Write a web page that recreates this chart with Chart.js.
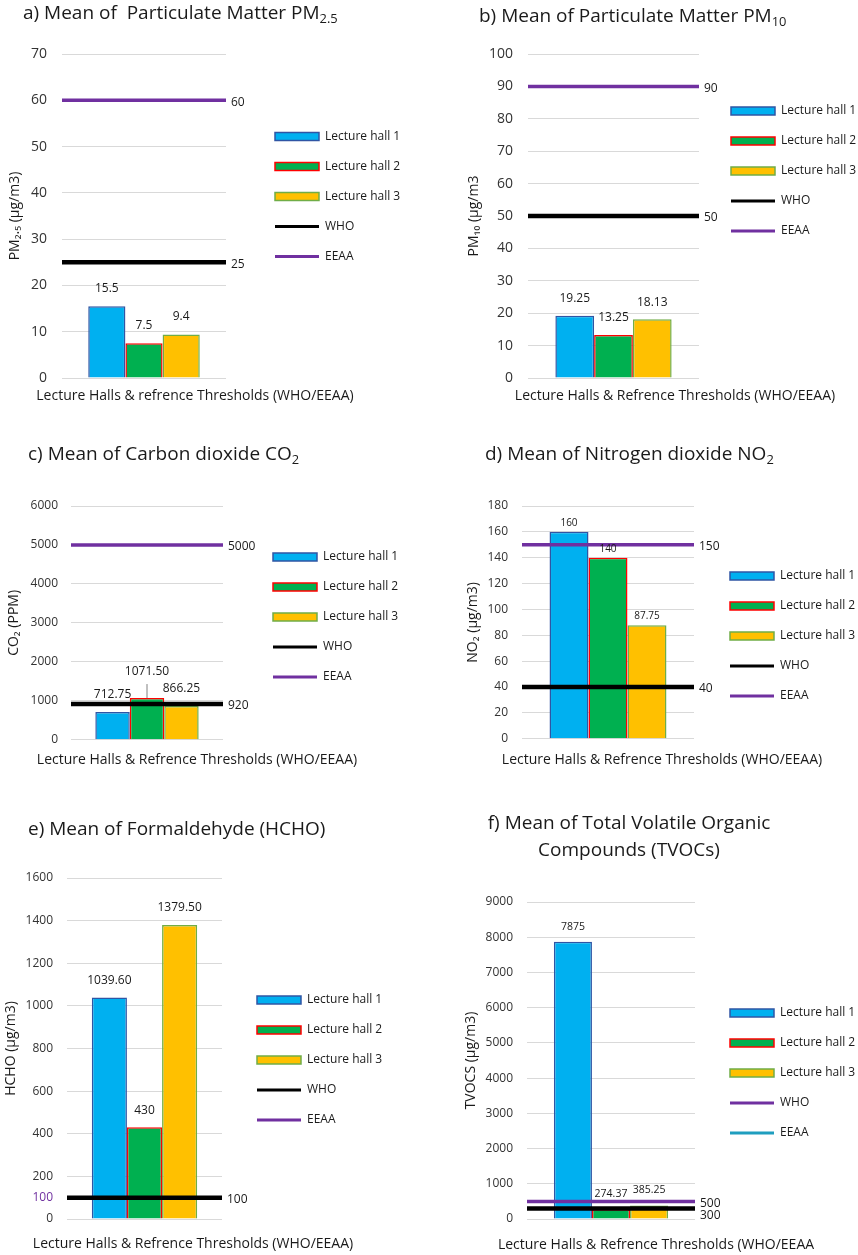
<!DOCTYPE html>
<html>
<head>
<meta charset="utf-8">
<script src="https://cdn.jsdelivr.net/npm/chart.js@4.4.1/dist/chart.umd.min.js"></script>
<style>
  html, body { margin: 0; padding: 0; background: #fff; overflow: hidden; }
  #page { position: relative; width: 858px; height: 1255px; overflow: hidden; font-family: 'Open Sans', sans-serif; color: #1a1a1a; }
  .panel { position: absolute; }
  .ttl { position: absolute; font-size: 19px; line-height: 23px; white-space: pre; }
  .ttl sub { font-size: 0.68em; line-height: 0; vertical-align: -0.3em; }
  .cap { position: absolute; font-size: 14px; line-height: 18px; white-space: pre; transform: translateX(-50%); }
</style>
</head>
<body>
<div id="page">
  <div class="panel" style="left:0;top:0"><canvas id="cA" width="429" height="412"></canvas></div>
  <div class="panel" style="left:430px;top:0"><canvas id="cB" width="480" height="412"></canvas></div>
  <div class="panel" style="left:0;top:420px"><canvas id="cC" width="429" height="340"></canvas></div>
  <div class="panel" style="left:430px;top:420px"><canvas id="cD" width="480" height="340"></canvas></div>
  <div class="panel" style="left:0;top:820px"><canvas id="cE" width="429" height="435"></canvas></div>
  <div class="panel" style="left:430px;top:820px"><canvas id="cF" width="480" height="435"></canvas></div>

  <div class="ttl" style="left:23px;top:1px">a) Mean of  Particulate Matter PM<sub>2.5</sub></div>
  <div class="ttl" style="left:479px;top:4px">b) Mean of Particulate Matter PM<sub>10</sub></div>
  <div class="ttl" style="left:28px;top:442px">c) Mean of Carbon dioxide CO<sub>2</sub></div>
  <div class="ttl" style="left:485px;top:442px">d) Mean of Nitrogen dioxide NO<sub>2</sub></div>
  <div class="ttl" style="left:28px;top:817px">e) Mean of Formaldehyde (HCHO)</div>
  <div class="ttl" style="left:629px;top:809px;line-height:27px;text-align:center;transform:translateX(-50%)">f) Mean of Total Volatile Organic
Compounds (TVOCs)</div>

  <div class="cap" style="left:195px;top:386px">Lecture Halls &amp; refrence Thresholds (WHO/EEAA)</div>
  <div class="cap" style="left:675px;top:386px">Lecture Halls &amp; Refrence Thresholds (WHO/EEAA)</div>
  <div class="cap" style="left:197px;top:750px">Lecture Halls &amp; Refrence Thresholds (WHO/EEAA)</div>
  <div class="cap" style="left:662px;top:750px">Lecture Halls &amp; Refrence Thresholds (WHO/EEAA)</div>
  <div class="cap" style="left:193px;top:1234px">Lecture Halls &amp; Refrence Thresholds (WHO/EEAA)</div>
  <div class="cap" style="left:656px;top:1235px">Lecture Halls &amp; Refrence Thresholds (WHO/EEAA</div>
</div>

<script>
// series names
const halls = ["Lecture hall 1", "Lecture hall 2", "Lecture hall 3"];
const limitNames = ["WHO", "EEAA"];

// a) PM2.5
const pm25Values = [15.5, 7.5, 9.4];
const pm25Text = ["15.5", "7.5", "9.4"];
const pm25Limits = [25, 60];
const pm25Ticks = [0, 10, 20, 30, 40, 50, 60, 70];

// b) PM10
const pm10Values = [19.25, 13.25, 18.13];
const pm10Text = ["19.25", "13.25", "18.13"];
const pm10Limits = [50, 90];
const pm10Ticks = [0, 10, 20, 30, 40, 50, 60, 70, 80, 90, 100];

// c) CO2
const co2Values = [712.75, 1071.5, 866.25];
const co2Text = ["712.75", "1071.50", "866.25"];
const co2Limits = [920, 5000];
const co2Ticks = [0, 1000, 2000, 3000, 4000, 5000, 6000];

// d) NO2
const no2Values = [160, 140, 87.75];
const no2Text = ["160", "140", "87.75"];
const no2Limits = [40, 150];
const no2Ticks = [0, 20, 40, 60, 80, 100, 120, 140, 160, 180];

// e) HCHO
const hchoValues = [1039.6, 430, 1379.5];
const hchoText = ["1039.60", "430", "1379.50"];
const hchoLimits = [100, 100];
const hchoTicks = [0, 100, 200, 400, 600, 800, 1000, 1200, 1400, 1600];
const hchoMarkedTick = 100;

// f) TVOCs
const tvocValues = [7875, 274.37, 385.25];
const tvocText = ["7875", "274.37", "385.25"];
const tvocLimits = [500, 300];
const tvocTicks = [0, 1000, 2000, 3000, 4000, 5000, 6000, 7000, 8000, 9000];

// styles
const hallFill = ["#00B0F0", "#00B050", "#FFC000"];
const hallBorder = ["#2F55A4", "#FF0000", "#70AD47"];
const BLACK = "#000000";
const PURPLE = "#7030A0";
const TEAL = "#1F9EBF";
const INK = "#1a1a1a";
const FONT = "'Open Sans', sans-serif";

Chart.defaults.font.family = FONT;
Chart.defaults.color = INK;

// legend width that Chart.js will ask for (so the plot area can be placed)
const measureCtx = document.createElement("canvas").getContext("2d");
measureCtx.font = "12px " + FONT;
const legendTextW = Math.max(...halls.concat(limitNames).map(t => measureCtx.measureText(t).width));
const LEGEND_PAD = 18;
const legendNaturalW = LEGEND_PAD + 44 + 6 + legendTextW + 10;

// WHO / EEAA threshold lines across the plot, placed with the y scale
const thresholds = {
  id: "thresholds",
  afterDatasetsDraw(chart, args, o) {
    const { ctx, chartArea } = chart;
    const yScale = chart.scales.y;
    const order = o.limits.map((v, i) => i).sort((a, b) => (o.colors[a] === BLACK) - (o.colors[b] === BLACK));
    ctx.save();
    order.forEach(i => {
      const v = o.limits[i];
      if (v == null) return;
      const py = yScale.getPixelForValue(v);
      ctx.strokeStyle = o.colors[i];
      ctx.lineWidth = o.colors[i] === BLACK ? 4.5 : 3.5;
      ctx.beginPath();
      ctx.moveTo(chartArea.left, py);
      ctx.lineTo(chartArea.right, py);
      ctx.stroke();
    });
    // values at the right end of the lines
    const vals = [];
    o.limits.forEach(v => { if (v != null && !vals.includes(v)) vals.push(v); });
    const marks = vals.map(v => ({ v, py: yScale.getPixelForValue(v) + 2 })).sort((a, b) => a.py - b.py);
    for (let k = 1; k < marks.length; k++) {
      if (marks[k].py - marks[k - 1].py < 12) marks[k].py = marks[k - 1].py + 12;
    }
    ctx.fillStyle = INK;
    ctx.textAlign = "left";
    ctx.textBaseline = "middle";
    ctx.font = "12px " + FONT;
    marks.forEach(m => ctx.fillText(String(m.v), chartArea.right + 5, m.py));
    ctx.restore();
  }
};

// bar values above each bar
const valueLabels = {
  id: "valueLabels",
  afterDatasetsDraw(chart, args, o) {
    const { ctx } = chart;
    ctx.save();
    ctx.fillStyle = INK;
    ctx.textAlign = "center";
    ctx.textBaseline = "middle";
    ctx.font = o.barSize + "px " + FONT;
    chart.data.datasets.forEach((ds, i) => {
      const bar = chart.getDatasetMeta(i).data[0];
      const lift = o.lift[i] || 0;
      const ty = bar.y - o.barGap - lift;
      ctx.fillText(ds.valueText, bar.x, ty);
      if (lift) {
        ctx.strokeStyle = "#808080";
        ctx.lineWidth = 1;
        ctx.beginPath();
        ctx.moveTo(bar.x, bar.y);
        ctx.lineTo(bar.x, ty + 12);
        ctx.stroke();
      }
    });
    ctx.restore();
  }
};

function buildPanel(p) {
  const datasets = halls.map((name, i) => ({
    label: name,
    data: [p.values[i]],
    valueText: p.text[i],
    backgroundColor: hallFill[i],
    borderColor: hallBorder[i],
    borderWidth: 1.5,
    categoryPercentage: 0.68,
    barPercentage: 1
  }));

  const legendLeft = p.legendX - LEGEND_PAD;
  const padRight = p.W - legendLeft - legendNaturalW;
  const gapW = legendLeft - p.plotRight;
  const tickSet = p.ticks;

  new Chart(document.getElementById(p.id).getContext("2d"), {
    type: "bar",
    data: { labels: ["Lecture halls"], datasets },
    plugins: [thresholds, valueLabels],
    options: {
      responsive: false,
      animation: false,
      layout: { padding: { left: 0, top: p.plotTop, right: padRight, bottom: 0 } },
      plugins: {
        tooltip: { enabled: false },
        title: { display: false },
        legend: {
          position: "right",
          align: "start",
          maxWidth: legendNaturalW + 20,
          title: { display: true, text: "", font: { size: 1 }, padding: { top: p.legendY - p.plotTop - LEGEND_PAD - 6 - 1.2, bottom: 0 } },
          labels: {
            usePointStyle: true,
            pointStyleWidth: 44,
            boxHeight: 8,
            padding: LEGEND_PAD,
            color: "#262626",
            font: { size: 12 },
            generateLabels() {
              const items = halls.map((name, i) => ({
                text: name, fillStyle: hallFill[i], strokeStyle: hallBorder[i],
                lineWidth: 1.5, pointStyle: "rect", hidden: false, datasetIndex: i
              }));
              limitNames.forEach((name, i) => items.push({
                text: name, fillStyle: p.legendColors[i], strokeStyle: p.legendColors[i],
                lineWidth: 3, pointStyle: "line", hidden: false
              }));
              return items;
            }
          }
        },
        thresholds: { limits: p.limits, colors: p.lineColors },
        valueLabels: { barSize: p.barSize, barGap: p.barGap, lift: p.lift || [0, 0, 0] }
      },
      scales: {
        x: {
          display: true,
          grid: { display: false },
          border: { display: false },
          ticks: { display: false },
          afterFit(s) { s.height = p.H - p.plotBottom; }
        },
        y: {
          min: tickSet[0],
          max: tickSet[tickSet.length - 1],
          afterBuildTicks(s) { s.ticks = tickSet.map(v => ({ value: v })); },
          afterFit(s) { s.width = p.plotLeft; },
          grid: { color: "#d9d9d9", lineWidth: 1, drawTicks: false },
          border: { display: false },
          ticks: {
            autoSkip: false,
            padding: p.tickPad,
            font: { size: p.tickSize },
            callback: v => String(v),
            color: c => (p.marked !== undefined && c.tick && c.tick.value === p.marked) ? PURPLE : "#333333"
          },
          title: {
            display: true,
            text: p.yTitle,
            color: INK,
            font: { size: 14 },
            padding: { top: p.yTitleX - 8.4, bottom: 0 }
          }
        },
        gap: {
          type: "linear",
          position: "right",
          display: true,
          grid: { display: false },
          border: { display: false },
          ticks: { display: false },
          afterFit(s) { s.width = gapW; }
        }
      }
    }
  });
}

const std = [BLACK, PURPLE];

buildPanel({ id: "cA", values: pm25Values, text: pm25Text, limits: pm25Limits, ticks: pm25Ticks,
  yTitle: "PM\u2082.\u2085 (\u00b5g/m3)", lineColors: std, legendColors: std,
  W: 429, H: 412, plotLeft: 62, plotTop: 54, plotBottom: 378, plotRight: 226,
  legendX: 275, legendY: 136.5, yTitleX: 15, tickPad: 15, tickSize: 14, barSize: 12, barGap: 18 });

buildPanel({ id: "cB", values: pm10Values, text: pm10Text, limits: pm10Limits, ticks: pm10Ticks,
  yTitle: "PM\u2081\u2080 (\u00b5g/m3", lineColors: std, legendColors: std,
  W: 480, H: 412, plotLeft: 98, plotTop: 54, plotBottom: 378, plotRight: 269,
  legendX: 301, legendY: 111, yTitleX: 44, tickPad: 15, tickSize: 14, barSize: 12, barGap: 17 });

buildPanel({ id: "cC", values: co2Values, text: co2Text, limits: co2Limits, ticks: co2Ticks,
  yTitle: "CO\u2082 (PPM)", lineColors: std, legendColors: std, lift: [0, 9, 0],
  W: 429, H: 340, plotLeft: 71, plotTop: 86, plotBottom: 320, plotRight: 223,
  legendX: 273, legendY: 137, yTitleX: 14, tickPad: 13, tickSize: 12, barSize: 12, barGap: 17 });

buildPanel({ id: "cD", values: no2Values, text: no2Text, limits: no2Limits, ticks: no2Ticks,
  yTitle: "NO\u2082 (\u00b5g/m3)", lineColors: std, legendColors: std,
  W: 480, H: 340, plotLeft: 92, plotTop: 86, plotBottom: 320, plotRight: 264,
  legendX: 300, legendY: 156, yTitleX: 43, tickPad: 14, tickSize: 12, barSize: 10, barGap: 9 });

buildPanel({ id: "cE", values: hchoValues, text: hchoText, limits: hchoLimits, ticks: hchoTicks,
  yTitle: "HCHO (\u00b5g/m3)", lineColors: std, legendColors: std, marked: hchoMarkedTick,
  W: 429, H: 435, plotLeft: 67, plotTop: 58, plotBottom: 399, plotRight: 222,
  legendX: 257, legendY: 180, yTitleX: 11, tickPad: 14, tickSize: 12, barSize: 12, barGap: 17 });

buildPanel({ id: "cF", values: tvocValues, text: tvocText, limits: tvocLimits, ticks: tvocTicks,
  yTitle: "TVOCS (\u00b5g/m3)", lineColors: [PURPLE, BLACK], legendColors: [PURPLE, TEAL],
  W: 480, H: 435, plotLeft: 97, plotTop: 82, plotBottom: 399, plotRight: 265,
  legendX: 300, legendY: 193, yTitleX: 41, tickPad: 14, tickSize: 12, barSize: 10.5, barGap: 15 });
</script>
</body>
</html>
